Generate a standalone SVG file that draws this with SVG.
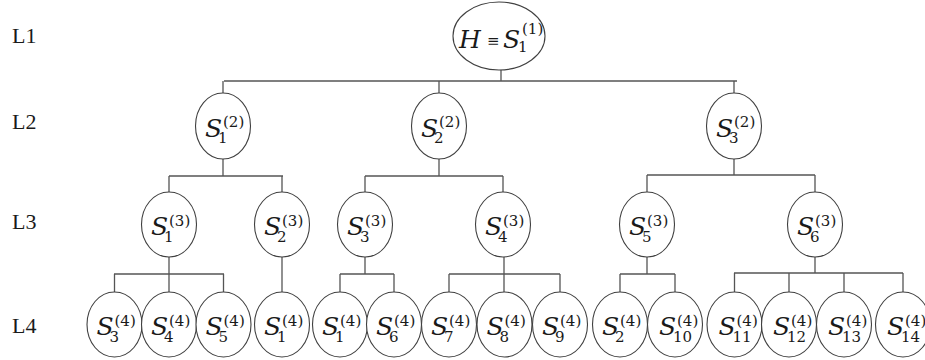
<svg xmlns="http://www.w3.org/2000/svg" width="925" height="360" viewBox="0 0 925 360">
<style>
.bg{fill:#ffffff}
.nd{fill:#ffffff;stroke:#404040;stroke-width:1.1}
.ln{fill:none;stroke:#555555;stroke-width:1.3}
.lbl{font-family:"Liberation Serif","Times New Roman",serif;font-size:22px;fill:#1a1a1a}
.t{font-family:"DejaVu Serif",serif;fill:#1a1a1a}
.s{font-style:italic;font-size:25px}
.sm{font-size:15px}
.eq{font-size:15px}
</style>
<rect class="bg" x="0" y="0" width="925" height="360"/>
<g id="labels">
<text class="lbl" x="12" y="43">L1</text>
<text class="lbl" x="12" y="129">L2</text>
<text class="lbl" x="12" y="229">L3</text>
<text class="lbl" x="12" y="333">L4</text>
</g>
<g id="connectors">
<path class="ln" d="M501,70V81M224,81H737M223,81V93M439,81V93M734,81V93"/>
<path class="ln" d="M223,159V176M169,176H283M169,176V192M282,176V192"/>
<path class="ln" d="M439,159V176M365,176H503M365,176V192M503,176V192"/>
<path class="ln" d="M734,159V175M647,175H815M647,175V192M815,175V192"/>
<path class="ln" d="M169,257V274M114,274H224M114.5,274V292M169,274V292M223.5,274V292"/>
<path class="ln" d="M282,257V292"/>
<path class="ln" d="M365,257V274M340,274H394M340,274V292M394,274V292"/>
<path class="ln" d="M504,257V274M449,274H560M449,274V292M504,274V292M560,274V292"/>
<path class="ln" d="M647,257V274M620,274H675M620,274V292M675,274V292"/>
<path class="ln" d="M815,257V273M734,273H903M734.5,273V292M789,273V292M844,273V292M903,273V292"/>
</g>
<g id="n-H">
<ellipse class="nd" cx="499" cy="36" rx="46" ry="34"/>
<text class="t"><tspan class="s" x="459" y="48">H</tspan><tspan class="eq" x="487" y="46">≡</tspan><tspan class="s" x="503" y="48">S</tspan><tspan class="sm" x="522" y="34">(1)</tspan><tspan class="sm" x="518" y="52">1</tspan></text>
</g>
<g id="n-L2-1"><ellipse class="nd" cx="223" cy="126" rx="27.5" ry="33"/><text class="t"><tspan class="s" x="205" y="136.5">S</tspan><tspan class="sm" x="223" y="127">(2)</tspan><tspan class="sm" x="218" y="143">1</tspan></text></g>
<g id="n-L2-2"><ellipse class="nd" cx="439" cy="126" rx="27.5" ry="33"/><text class="t"><tspan class="s" x="421" y="136.5">S</tspan><tspan class="sm" x="439" y="127">(2)</tspan><tspan class="sm" x="434" y="143">2</tspan></text></g>
<g id="n-L2-3"><ellipse class="nd" cx="734" cy="126" rx="27.5" ry="33"/><text class="t"><tspan class="s" x="716" y="136.5">S</tspan><tspan class="sm" x="734" y="127">(2)</tspan><tspan class="sm" x="729" y="143">3</tspan></text></g>
<g id="n-L3-1"><ellipse class="nd" cx="169" cy="224.5" rx="27.5" ry="32.5"/><text class="t"><tspan class="s" x="151" y="235">S</tspan><tspan class="sm" x="169" y="225.5">(3)</tspan><tspan class="sm" x="164" y="241.5">1</tspan></text></g>
<g id="n-L3-2"><ellipse class="nd" cx="282" cy="224.5" rx="27.5" ry="32.5"/><text class="t"><tspan class="s" x="264" y="235">S</tspan><tspan class="sm" x="282" y="225.5">(3)</tspan><tspan class="sm" x="277" y="241.5">2</tspan></text></g>
<g id="n-L3-3"><ellipse class="nd" cx="365" cy="224.5" rx="27.5" ry="32.5"/><text class="t"><tspan class="s" x="347" y="235">S</tspan><tspan class="sm" x="365" y="225.5">(3)</tspan><tspan class="sm" x="360" y="241.5">3</tspan></text></g>
<g id="n-L3-4"><ellipse class="nd" cx="503" cy="224.5" rx="27.5" ry="32.5"/><text class="t"><tspan class="s" x="485" y="235">S</tspan><tspan class="sm" x="503" y="225.5">(3)</tspan><tspan class="sm" x="498" y="241.5">4</tspan></text></g>
<g id="n-L3-5"><ellipse class="nd" cx="647" cy="224.5" rx="27.5" ry="32.5"/><text class="t"><tspan class="s" x="629" y="235">S</tspan><tspan class="sm" x="647" y="225.5">(3)</tspan><tspan class="sm" x="642" y="241.5">5</tspan></text></g>
<g id="n-L3-6"><ellipse class="nd" cx="815" cy="224.5" rx="27.5" ry="32.5"/><text class="t"><tspan class="s" x="797" y="235">S</tspan><tspan class="sm" x="815" y="225.5">(3)</tspan><tspan class="sm" x="810" y="241.5">6</tspan></text></g>
<g id="n-L4-a"><ellipse class="nd" cx="114.5" cy="324.5" rx="27.5" ry="32.5"/><text class="t"><tspan class="s" x="96.5" y="335">S</tspan><tspan class="sm" x="114.5" y="325.5">(4)</tspan><tspan class="sm" x="109.5" y="341.5">3</tspan></text></g>
<g id="n-L4-b"><ellipse class="nd" cx="169" cy="324.5" rx="27.5" ry="32.5"/><text class="t"><tspan class="s" x="151" y="335">S</tspan><tspan class="sm" x="169" y="325.5">(4)</tspan><tspan class="sm" x="164" y="341.5">4</tspan></text></g>
<g id="n-L4-c"><ellipse class="nd" cx="223.5" cy="324.5" rx="27.5" ry="32.5"/><text class="t"><tspan class="s" x="205.5" y="335">S</tspan><tspan class="sm" x="223.5" y="325.5">(4)</tspan><tspan class="sm" x="218.5" y="341.5">5</tspan></text></g>
<g id="n-L4-d"><ellipse class="nd" cx="282" cy="324.5" rx="27.5" ry="32.5"/><text class="t"><tspan class="s" x="264" y="335">S</tspan><tspan class="sm" x="282" y="325.5">(4)</tspan><tspan class="sm" x="277" y="341.5">1</tspan></text></g>
<g id="n-L4-e"><ellipse class="nd" cx="340" cy="324.5" rx="27.5" ry="32.5"/><text class="t"><tspan class="s" x="322" y="335">S</tspan><tspan class="sm" x="340" y="325.5">(4)</tspan><tspan class="sm" x="335" y="341.5">1</tspan></text></g>
<g id="n-L4-f"><ellipse class="nd" cx="394" cy="324.5" rx="27.5" ry="32.5"/><text class="t"><tspan class="s" x="376" y="335">S</tspan><tspan class="sm" x="394" y="325.5">(4)</tspan><tspan class="sm" x="389" y="341.5">6</tspan></text></g>
<g id="n-L4-g"><ellipse class="nd" cx="449" cy="324.5" rx="27.5" ry="32.5"/><text class="t"><tspan class="s" x="431" y="335">S</tspan><tspan class="sm" x="449" y="325.5">(4)</tspan><tspan class="sm" x="444" y="341.5">7</tspan></text></g>
<g id="n-L4-h"><ellipse class="nd" cx="504.5" cy="324.5" rx="27.5" ry="32.5"/><text class="t"><tspan class="s" x="486.5" y="335">S</tspan><tspan class="sm" x="504.5" y="325.5">(4)</tspan><tspan class="sm" x="499.5" y="341.5">8</tspan></text></g>
<g id="n-L4-i"><ellipse class="nd" cx="560" cy="324.5" rx="27.5" ry="32.5"/><text class="t"><tspan class="s" x="542" y="335">S</tspan><tspan class="sm" x="560" y="325.5">(4)</tspan><tspan class="sm" x="555" y="341.5">9</tspan></text></g>
<g id="n-L4-j"><ellipse class="nd" cx="620" cy="324.5" rx="27.5" ry="32.5"/><text class="t"><tspan class="s" x="602" y="335">S</tspan><tspan class="sm" x="620" y="325.5">(4)</tspan><tspan class="sm" x="615" y="341.5">2</tspan></text></g>
<g id="n-L4-k"><ellipse class="nd" cx="675" cy="324.5" rx="27.5" ry="32.5"/><text class="t"><tspan class="s" x="659" y="335">S</tspan><tspan class="sm" x="677" y="325.5">(4)</tspan><tspan class="sm" x="673" y="341.5">10</tspan></text></g>
<g id="n-L4-l"><ellipse class="nd" cx="734.5" cy="324.5" rx="27.5" ry="32.5"/><text class="t"><tspan class="s" x="718.5" y="335">S</tspan><tspan class="sm" x="736.5" y="325.5">(4)</tspan><tspan class="sm" x="732.5" y="341.5">11</tspan></text></g>
<g id="n-L4-m"><ellipse class="nd" cx="789" cy="324.5" rx="27.5" ry="32.5"/><text class="t"><tspan class="s" x="773" y="335">S</tspan><tspan class="sm" x="791" y="325.5">(4)</tspan><tspan class="sm" x="787" y="341.5">12</tspan></text></g>
<g id="n-L4-n"><ellipse class="nd" cx="844" cy="324.5" rx="27.5" ry="32.5"/><text class="t"><tspan class="s" x="828" y="335">S</tspan><tspan class="sm" x="846" y="325.5">(4)</tspan><tspan class="sm" x="842" y="341.5">13</tspan></text></g>
<g id="n-L4-o"><ellipse class="nd" cx="903" cy="324.5" rx="27.5" ry="32.5"/><text class="t"><tspan class="s" x="887" y="335">S</tspan><tspan class="sm" x="905" y="325.5">(4)</tspan><tspan class="sm" x="901" y="341.5">14</tspan></text></g>
</svg>
